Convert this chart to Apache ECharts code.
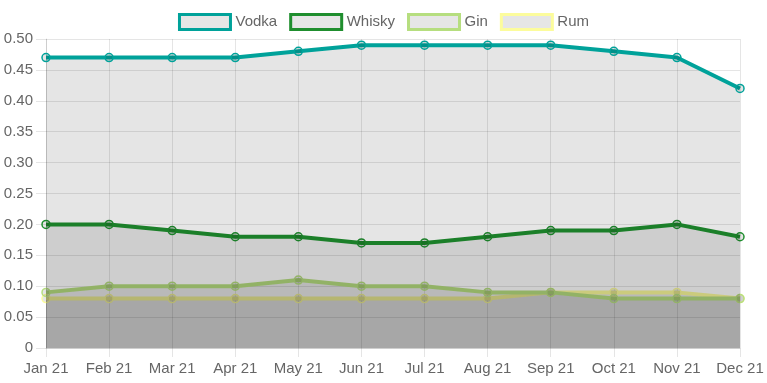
<!DOCTYPE html>
<html>
<head>
<meta charset="utf-8">
<script src="https://cdn.jsdelivr.net/npm/echarts@6/dist/echarts.min.js"></script>
<style>html,body{margin:0;padding:0;background:#fff}#c{width:767px;height:383px}</style>
</head>
<body>
<div id="c"></div>
<script>
var categories = ['Jan 21','Feb 21','Mar 21','Apr 21','May 21','Jun 21','Jul 21','Aug 21','Sep 21','Oct 21','Nov 21','Dec 21'];
var vodka  = [0.47,0.47,0.47,0.47,0.48,0.49,0.49,0.49,0.49,0.48,0.47,0.42];
var whisky = [0.20,0.20,0.19,0.18,0.18,0.17,0.17,0.18,0.19,0.19,0.20,0.18];
var gin    = [0.09,0.10,0.10,0.10,0.11,0.10,0.10,0.09,0.09,0.08,0.08,0.08];
var rum    = [0.08,0.08,0.08,0.08,0.08,0.08,0.08,0.08,0.09,0.09,0.09,0.08];
var seriesNames = ['Vodka','Whisky','Gin','Rum'];
var seriesColors = ['#00a29a','#1f8e2e','#b6de7f','#fcfc9c'];
var seriesData = [vodka, whisky, gin, rum];

var font = 'Liberation Sans, Arial, Helvetica, sans-serif';
var chart = echarts.init(document.getElementById('c'), null, {renderer:'canvas'});

var series = [];
for (var i = seriesNames.length - 1; i >= 0; i--) {
  series.push({
    name: seriesNames[i],
    type: 'line',
    data: seriesData[i],
    z: 10 + (seriesNames.length - i),
    symbol: 'circle',
    symbolSize: 8,
    showSymbol: true,
    lineStyle: {color: seriesColors[i], width: 4},
    itemStyle: {color: 'rgba(0,0,0,0.1)', borderColor: seriesColors[i], borderWidth: 1.5},
    areaStyle: {color: 'rgba(0,0,0,0.1)', opacity: 1, origin: 'start'},
    emphasis: {disabled: true},
    animation: false
  });
}

chart.setOption({
  animation: false,
  legend: {
    top: 8,
    left: 'center',
    itemWidth: 51,
    itemHeight: 15,
    itemGap: 12,
    icon: 'rect',
    selectedMode: false,
    textStyle: {color: '#666', fontSize: 15, fontFamily: font},
    data: seriesNames.map(function (n, i) {
      return {name: n, itemStyle: {color: '#e6e6e6', borderColor: seriesColors[i], borderWidth: 3}};
    })
  },
  grid: {left: 46, right: 27, top: 39, bottom: 35, containLabel: false},
  xAxis: {
    type: 'category',
    data: categories,
    boundaryGap: false,
    axisLine: {show: true, lineStyle: {color: 'rgba(0,0,0,0.1)'}},
    axisTick: {show: true, length: 9, alignWithLabel: true, lineStyle: {color: 'rgba(0,0,0,0.1)'}},
    axisLabel: {color: '#666', fontSize: 15, fontFamily: font, margin: 13, interval: 0},
    splitLine: {show: true, lineStyle: {color: 'rgba(0,0,0,0.1)'}}
  },
  yAxis: {
    type: 'value',
    min: 0, max: 0.5, interval: 0.05,
    axisLine: {show: true, lineStyle: {color: 'rgba(0,0,0,0.1)'}},
    axisTick: {show: true, length: 10, lineStyle: {color: 'rgba(0,0,0,0.1)'}},
    axisLabel: {color: '#666', fontSize: 15, fontFamily: font, margin: 13,
      formatter: function (v) { return v === 0 ? '0' : v.toFixed(2); }},
    splitLine: {show: true, lineStyle: {color: 'rgba(0,0,0,0.1)'}}
  },
  series: series
});
</script>
</body>
</html>
